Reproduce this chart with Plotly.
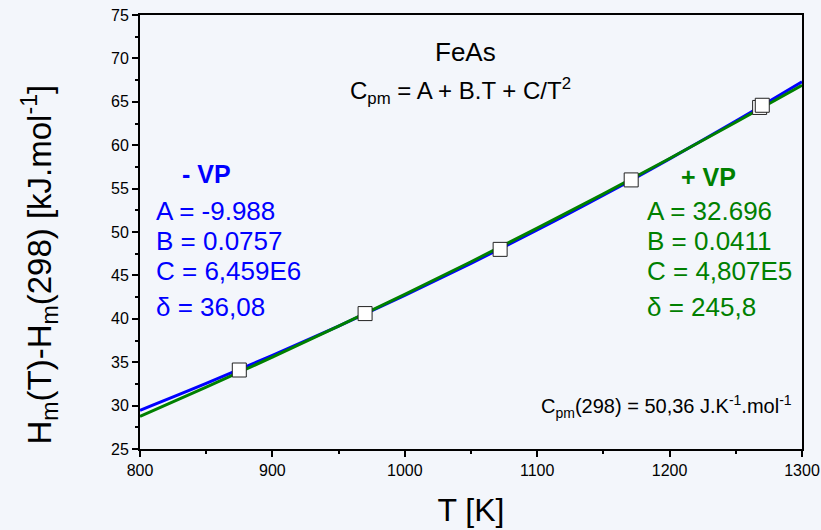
import plotly.graph_objects as go

# Data
T_curve = [800, 850, 900, 950, 1000, 1050, 1100, 1150, 1200, 1250, 1300]
H_minus_vp = [29.45, 32.55, 35.78, 39.16, 42.69, 46.38, 50.23, 54.24, 58.43, 62.78, 67.30]
H_plus_vp = [28.75, 32.12, 35.58, 39.15, 42.81, 46.57, 50.44, 54.40, 58.47, 62.64, 66.91]
T_exp = [875, 970, 1072, 1171, 1268, 1270]
H_exp = [34.1, 40.6, 48.0, 56.0, 64.35, 64.6]

blue_lines = ["A = -9.988", "B = 0.0757", "C = 6,459E6", "δ = 36,08"]
green_lines = ["A = 32.696", "B = 0.0411", "C = 4,807E5", "δ = 245,8"]

BG = "#F3F6FB"
FONT = "Liberation Sans, Arial, sans-serif"
BLUE = "#0000FF"
GREEN = "#008000"

fig = go.Figure()
fig.add_trace(go.Scatter(x=T_curve, y=H_minus_vp, mode="lines", line=dict(color=BLUE, width=3, shape="spline"), showlegend=False))
fig.add_trace(go.Scatter(x=T_curve, y=H_plus_vp, mode="lines", line=dict(color=GREEN, width=3, shape="spline"), showlegend=False))
fig.add_trace(go.Scatter(x=T_exp, y=H_exp, mode="markers",
                         marker=dict(symbol="square", size=14, color="white", line=dict(color="#222222", width=1)),
                         showlegend=False))

ann = []
ann.append(dict(x=1045.5, y=70.7, text="FeAs", font=dict(size=26, color="black")))
ann.append(dict(x=1041.7, y=66.2, text="C<sub>pm</sub> = A + B.T + C/T<sup>2</sup>", font=dict(size=24, color="black")))
ann.append(dict(x=850.6, y=56.7, text="<b>- VP</b>", font=dict(size=25, color=BLUE)))
ann.append(dict(x=1229, y=56.3, text="<b>+ VP</b>", font=dict(size=25, color=GREEN)))
ys = [52.45, 49.0, 45.45, 41.4]
for t, yy in zip(blue_lines, ys):
    ann.append(dict(x=810.6, y=yy, text=t, xanchor="left", font=dict(size=26, color=BLUE)))
for t, yy in zip(green_lines, ys):
    ann.append(dict(x=1181.4, y=yy, text=t, xanchor="left", font=dict(size=26, color=GREEN)))
ann.append(dict(x=1294, y=29.9, text="C<sub>pm</sub>(298) = 50,36 J.K<sup>-1</sup>.mol<sup>-1</sup>", xanchor="right",
                font=dict(size=20, color="black")))
for a in ann:
    a.setdefault("xanchor", "center")
    a.update(xref="x", yref="y", showarrow=False, yanchor="middle")
    a["font"]["family"] = FONT

# y-axis title as rotated annotation
ann.append(dict(xref="paper", yref="paper", x=-0.151, y=0.425, xanchor="center", yanchor="middle",
                textangle=-90, showarrow=False,
                text="H<sub>m</sub>(T)-H<sub>m</sub>(298) [kJ.mol<sup>-1</sup>]",
                font=dict(size=33, family=FONT, color="black")))

fig.update_layout(
    width=821, height=530,
    margin=dict(l=140, r=19, t=15, b=81, autoexpand=False),
    paper_bgcolor=BG, plot_bgcolor=BG,
    font=dict(family=FONT, color="black"),
    annotations=ann,
    xaxis=dict(range=[800, 1300], dtick=100, showgrid=False, zeroline=False,
               showline=True, linecolor="black", linewidth=2, mirror=True,
               ticks="outside", ticklen=6, tickwidth=1.5, tickcolor="black",
               minor=dict(dtick=50, ticks="outside", ticklen=3, tickcolor="black"),
               tickfont=dict(size=16), automargin=False,
               title=dict(text="T [K]", font=dict(size=32), standoff=20)),
    yaxis=dict(range=[25, 75], dtick=5, showgrid=False, zeroline=False,
               showline=True, linecolor="black", linewidth=2, mirror=True,
               ticks="outside", ticklen=6, tickwidth=1.5, tickcolor="black",
               minor=dict(dtick=2.5, ticks="outside", ticklen=3, tickcolor="black"),
               tickfont=dict(size=16), automargin=False),
)

fig.write_html("out.html")
